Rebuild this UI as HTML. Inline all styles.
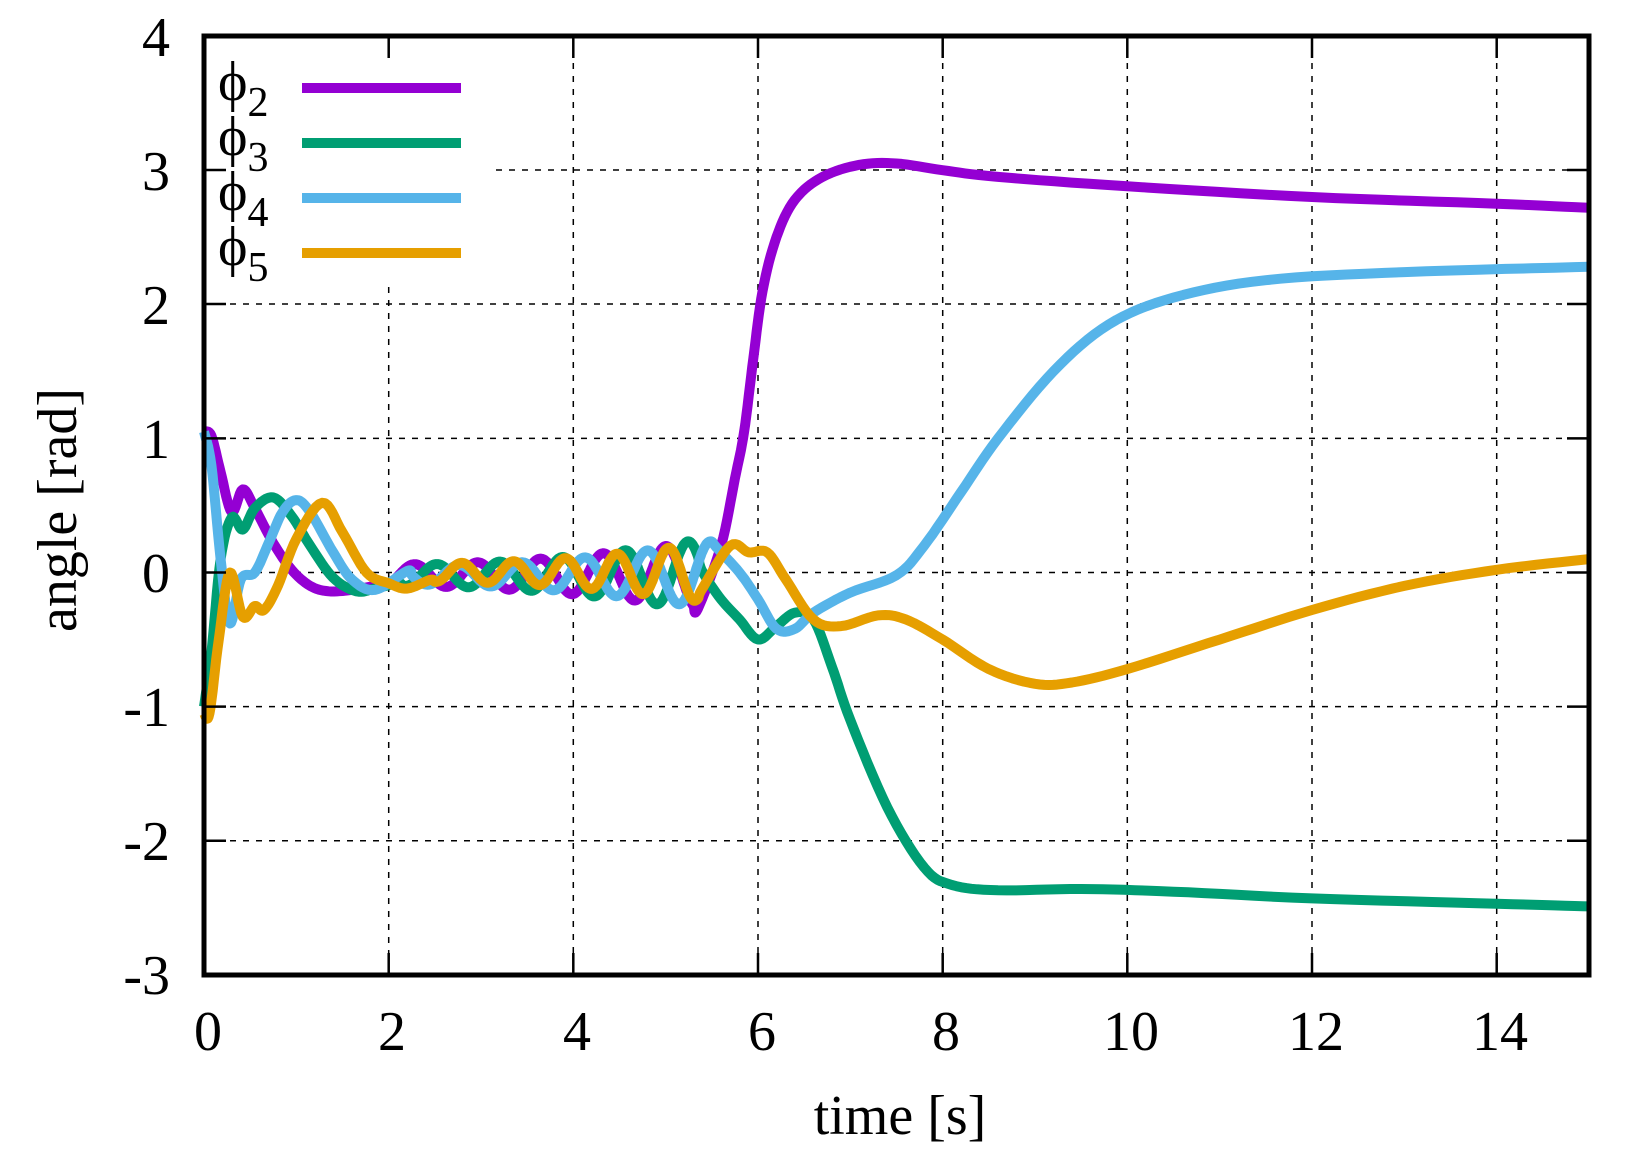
<!DOCTYPE html>
<html><head><meta charset="utf-8"><style>
html,body{margin:0;padding:0;background:#fff}
svg{display:block}
text{font-family:"Liberation Serif",serif;fill:#000}
</style></head><body>
<svg id="s" width="1625" height="1155" viewBox="0 0 1625 1155" xmlns="http://www.w3.org/2000/svg">
<rect width="1625" height="1155" fill="#fff"/>
<g stroke="#000" stroke-width="1.5" stroke-dasharray="6,7" fill="none">
<path d="M388.7 287V975M573.3 37V975M758 37V975M942.7 37V975M1127.3 37V975M1312 37V975M1496.7 37V975"/>
<path d="M496 170H1589M204 304H1589M204 438.4H1589M204 572.5H1589M204 706.6H1589M204 840.7H1589"/>
</g>
<g id="curves" fill="none" stroke-width="10" stroke-linejoin="round" stroke-linecap="butt"></g>
<g stroke="#000" stroke-width="2.5">
<path d="M388.7 975v-22M573.3 975v-22M758 975v-22M942.7 975v-22M1127.3 975v-22M1312 975v-22M1496.7 975v-22"/>
<path d="M388.7 36v22M573.3 36v22M758 36v22M942.7 36v22M1127.3 36v22M1312 36v22M1496.7 36v22"/>
<path d="M204 170h22M204 304h22M204 438.4h22M204 572.5h22M204 706.6h22M204 840.7h22"/>
<path d="M1589 170h-22M1589 304h-22M1589 438.4h-22M1589 572.5h-22M1589 706.6h-22M1589 840.7h-22"/>
</g>
<rect x="204" y="36" width="1385" height="939" fill="none" stroke="#000" stroke-width="5"/>
<g font-size="56" text-anchor="end">
<text x="170" y="56">4</text><text x="170" y="190">3</text><text x="170" y="324">2</text>
<text x="170" y="458">1</text><text x="170" y="592">0</text><text x="170" y="726">-1</text>
<text x="170" y="860">-2</text><text x="170" y="994">-3</text>
</g>
<g font-size="56" text-anchor="middle">
<text x="208" y="1050">0</text><text x="392" y="1050">2</text><text x="577" y="1050">4</text>
<text x="762" y="1050">6</text><text x="946" y="1050">8</text><text x="1131" y="1050">10</text>
<text x="1316" y="1050">12</text><text x="1500" y="1050">14</text>
<text x="900" y="1134">time [s]</text>
<text transform="translate(76,510) rotate(-90)">angle [rad]</text>
</g>
<g font-size="56">
<text x="218" y="100">ϕ<tspan font-size="42" dy="16">2</tspan></text>
<text x="218" y="155">ϕ<tspan font-size="42" dy="16">3</tspan></text>
<text x="218" y="210">ϕ<tspan font-size="42" dy="16">4</tspan></text>
<text x="218" y="265">ϕ<tspan font-size="42" dy="16">5</tspan></text>
</g>
<g stroke-width="10">
<path d="M302 88H461" stroke="#9400d3"/>
<path d="M302 143H461" stroke="#009e73"/>
<path d="M302 198H461" stroke="#56b4e9"/>
<path d="M302 253H461" stroke="#e69f00"/>
</g>
</svg>
<script>
(function(){
var X=function(t){return 204+t*92.33},Y=function(v){return 572.5-v*134.1};
function osc(t0,t1,peak,P,A0,A1,base){var r=[];for(var t=t0;t<=t1+1e-9;t+=0.05){var q=(t-t0)/(t1-t0);var a=A0+(A1-A0)*q*q;r.push([t,base+a*Math.cos(2*Math.PI*(t-peak)/P)]);}return r;}
var S=[
{c:"#9400d3",e:[[0,1.05],[0.08,1.02],[0.18,0.75],[0.3,0.45],[0.42,0.62],[0.55,0.48],[0.75,0.22],[0.95,0.02],[1.15,-0.1],[1.35,-0.14],[1.6,-0.13]],o:osc(1.9,5.35,5.0,0.68,0.08,0.25,-0.02),l:[[5.6,0.2],[5.75,0.7],[5.85,1.05],[5.95,1.6],[6.05,2.1],[6.2,2.5],[6.4,2.78],[6.7,2.95],[7.1,3.04],[7.5,3.05],[8,3.0],[8.6,2.95],[10,2.88],[12,2.8],[14,2.75],[15,2.72]]},
{c:"#009e73",e:[[0,-1.0],[0.08,-0.6],[0.18,0.1],[0.3,0.41],[0.42,0.32],[0.55,0.48],[0.75,0.56],[0.95,0.42],[1.15,0.2],[1.4,-0.04],[1.65,-0.14],[1.85,-0.12]],o:osc(2.1,5.4,5.24,0.68,0.08,0.27,-0.02),l:[[5.6,-0.2],[5.8,-0.35],[6.0,-0.5],[6.2,-0.4],[6.4,-0.3],[6.6,-0.35],[6.8,-0.7],[7.0,-1.1],[7.4,-1.75],[7.8,-2.2],[8.1,-2.33],[8.6,-2.37],[9.5,-2.36],[10.5,-2.38],[12,-2.43],[14,-2.47],[15,-2.49]]},
{c:"#56b4e9",e:[[0,1.05],[0.08,0.8],[0.18,0.1],[0.28,-0.38],[0.4,-0.05],[0.55,0.0],[0.7,0.22],[0.85,0.45],[1.0,0.54],[1.15,0.45],[1.4,0.15],[1.6,-0.05],[1.85,-0.13]],o:osc(2.2,5.55,5.48,0.68,0.07,0.26,-0.02),l:[[5.8,0.0],[6.0,-0.2],[6.2,-0.42],[6.4,-0.42],[6.6,-0.3],[7.0,-0.15],[7.5,-0.02],[7.8,0.2],[8.2,0.6],[8.6,1.0],[9.2,1.5],[9.8,1.85],[10.5,2.05],[11.5,2.18],[13,2.24],[15,2.28]]},
{c:"#e69f00",e:[[0,-1.05],[0.06,-1.05],[0.16,-0.5],[0.28,0.0],[0.42,-0.33],[0.55,-0.25],[0.65,-0.28],[0.8,-0.1],[1.0,0.25],[1.28,0.52],[1.5,0.3],[1.76,0.0],[2.0,-0.08],[2.2,-0.12]],o:osc(2.45,5.4,5.03,0.56,0.07,0.22,0.0),l:[[5.7,0.2],[5.9,0.15],[6.1,0.15],[6.3,-0.05],[6.6,-0.35],[6.9,-0.4],[7.3,-0.32],[7.6,-0.35],[8.0,-0.5],[8.5,-0.72],[9.0,-0.83],[9.4,-0.82],[10,-0.72],[11,-0.5],[12,-0.28],[13,-0.1],[14,0.02],[15,0.1]]}
];
var g=document.getElementById("curves");
S.forEach(function(s){
 var p=s.e.concat(s.o,s.l);
 var d="M"+X(p[0][0]).toFixed(1)+" "+Y(p[0][1]).toFixed(1);
 for(var i=0;i<p.length-1;i++){
  var p0=p[Math.max(0,i-1)],p1=p[i],p2=p[i+1],p3=p[Math.min(p.length-1,i+2)];
  for(var k=1;k<=8;k++){var u=k/8,u2=u*u,u3=u2*u;
   var f=function(a,b,c,e){return 0.5*((2*b)+(-a+c)*u+(2*a-5*b+4*c-e)*u2+(-a+3*b-3*c+e)*u3)};
   var t=f(p0[0],p1[0],p2[0],p3[0]),v=f(p0[1],p1[1],p2[1],p3[1]);
   d+="L"+X(t).toFixed(1)+" "+Y(v).toFixed(1);}
 }
 var el=document.createElementNS("http://www.w3.org/2000/svg","path");
 el.setAttribute("d",d);el.setAttribute("stroke",s.c);g.appendChild(el);
});
})();
</script>
</body></html>
